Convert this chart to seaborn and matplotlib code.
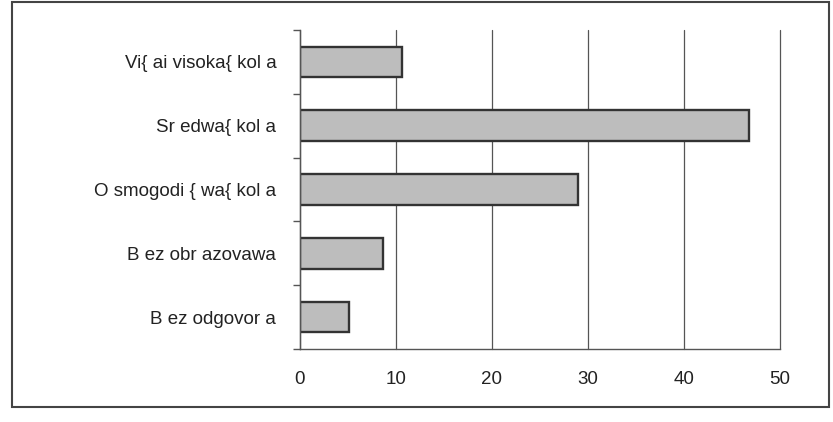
import matplotlib
matplotlib.use("Agg")
import matplotlib.pyplot as plt
import seaborn as sns
import pandas as pd
from matplotlib.patches import Rectangle

categories = ["Vi{ ai visoka{ kol a", "Sr edwa{ kol a", "O smogodi { wa{ kol a",
              "B ez obr azovawa", "B ez odgovor a"]
values = [10.6, 46.8, 29.0, 8.7, 5.1]
xticks = [0, 10, 20, 30, 40, 50]

sns.set_theme(style="white")
plt.rcParams['font.family'] = ['Liberation Sans', 'DejaVu Sans']

df = pd.DataFrame({"cat": categories, "val": values})

fig = plt.figure(figsize=(8.33, 4.22), dpi=100)
ax = fig.add_axes([0.36, 0.173, 0.576, 0.756])

sns.barplot(data=df, x="val", y="cat", orient="h", color="#bdbdbd",
            edgecolor="#333333", linewidth=1.7, width=0.48, saturation=1, ax=ax)

ax.set_xlim(0, 50)
ax.set_xticks(xticks)
ax.set_xticklabels([str(t) for t in xticks], fontsize=13.5, color="#222")
ax.set_ylim(len(categories) - 0.5, -0.5)
ax.set_xlabel("")
ax.set_ylabel("")
ax.tick_params(axis="y", length=0, labelsize=13.5, labelcolor="#222", pad=17)
ax.tick_params(axis="x", length=0, pad=16)
ax.set_yticks([i - 0.5 for i in range(len(categories) + 1)], minor=True)
ax.tick_params(axis="y", which="minor", length=5, width=1, color="#555", direction="out", left=True)

ax.grid(axis="x", color="#555", linewidth=0.9)
for gl in ax.get_xgridlines():
    gl.set_clip_on(False)
ax.set_axisbelow(True)
for s in ["top", "right"]:
    ax.spines[s].set_visible(False)
for s in ["left", "bottom"]:
    ax.spines[s].set_color("#555")
    ax.spines[s].set_linewidth(1)

fig.patches.append(Rectangle((12 / 833, 15 / 422), 817 / 833, 405 / 422,
                             transform=fig.transFigure, fill=False,
                             edgecolor="#444", linewidth=1.5))

fig.savefig("out.png", dpi=100, facecolor="white")
